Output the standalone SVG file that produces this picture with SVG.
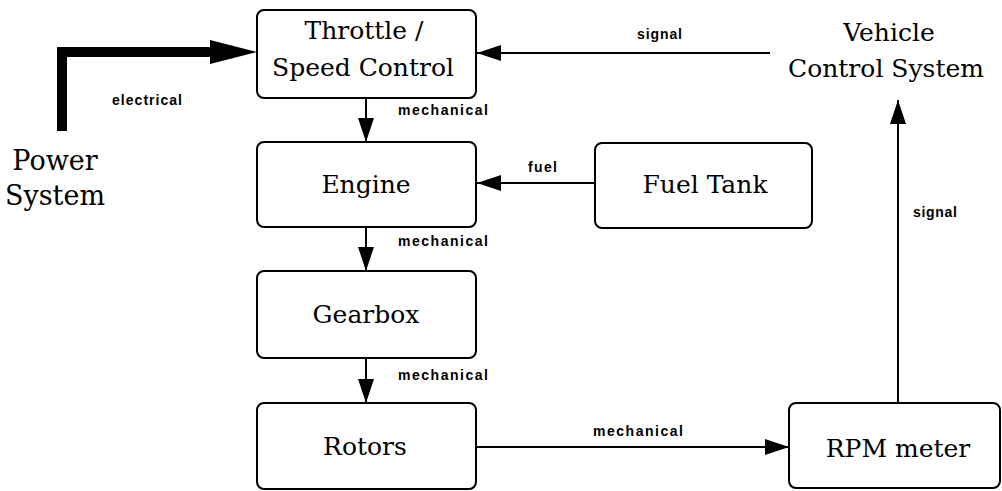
<svg xmlns="http://www.w3.org/2000/svg" width="1002" height="491" viewBox="0 0 1002 491">
<style>
.box{fill:#fff;stroke:#000;stroke-width:2}
.big{font-family:"DejaVu Serif","Liberation Serif",serif;font-size:25px;fill:#000;text-anchor:middle}
.lbl{font-family:"Liberation Sans",Arial,sans-serif;font-size:14px;font-weight:bold;fill:#000}
.ln{stroke:#000;stroke-width:2;fill:none}
</style>
<defs>
<marker id="ah" viewBox="0 0 24 16" refX="24" refY="8" markerWidth="24" markerHeight="16" markerUnits="userSpaceOnUse" orient="auto">
<path d="M0,0 L24,8 L0,16 Z" fill="#000"/>
</marker>
</defs>
<rect width="1002" height="491" fill="#fff"/>
<g id="connectors">
<polyline points="62,131 62,52 212,52" fill="none" stroke="#000" stroke-width="10"/>
<path d="M210,40 L257,52 L210,64 Z" fill="#000"/>
<line class="ln" x1="366" y1="98" x2="366" y2="142" marker-end="url(#ah)"/>
<line class="ln" x1="366" y1="227" x2="366" y2="271" marker-end="url(#ah)"/>
<line class="ln" x1="366" y1="358" x2="366" y2="403" marker-end="url(#ah)"/>
<line class="ln" x1="770" y1="53" x2="477" y2="53" marker-end="url(#ah)"/>
<line class="ln" x1="595" y1="183" x2="477" y2="183" marker-end="url(#ah)"/>
<line class="ln" x1="898" y1="403" x2="898" y2="100" marker-end="url(#ah)"/>
<line class="ln" x1="476" y1="447" x2="789" y2="447" marker-end="url(#ah)"/>
<text class="lbl" x="112" y="105" textLength="70">electrical</text>
<text class="lbl" x="398" y="115" textLength="90">mechanical</text>
<text class="lbl" x="398" y="246" textLength="90">mechanical</text>
<text class="lbl" x="398" y="380" textLength="90">mechanical</text>
<text class="lbl" x="593" y="436" textLength="90">mechanical</text>
<text class="lbl" x="637" y="39" textLength="45">signal</text>
<text class="lbl" x="528" y="172" textLength="29">fuel</text>
<text class="lbl" x="913" y="217" textLength="44">signal</text>
</g>
<g id="power">
<text class="big" x="55" y="170" style="font-size:27px">Power</text>
<text class="big" x="55" y="205" style="font-size:27px">System</text>
</g>
<g id="throttle">
<rect class="box" x="257" y="10" width="219" height="88" rx="7"/>
<text class="big" x="364" y="39">Throttle /</text>
<text class="big" x="363" y="76">Speed Control</text>
</g>
<g id="vcs">
<text class="big" x="889" y="41">Vehicle</text>
<text class="big" x="886" y="77">Control System</text>
</g>
<g id="engine">
<rect class="box" x="257" y="142" width="219" height="85" rx="7"/>
<text class="big" x="366" y="193">Engine</text>
</g>
<g id="fueltank">
<rect class="box" x="595" y="143" width="217" height="85" rx="7"/>
<text class="big" x="705" y="193">Fuel Tank</text>
</g>
<g id="gearbox">
<rect class="box" x="257" y="271" width="219" height="87" rx="7"/>
<text class="big" x="366" y="323">Gearbox</text>
</g>
<g id="rotors">
<rect class="box" x="257" y="403" width="219" height="86" rx="7"/>
<text class="big" x="365" y="455">Rotors</text>
</g>
<g id="rpm">
<rect class="box" x="789" y="403" width="211" height="85" rx="7"/>
<text class="big" x="898" y="457">RPM meter</text>
</g>
</svg>
